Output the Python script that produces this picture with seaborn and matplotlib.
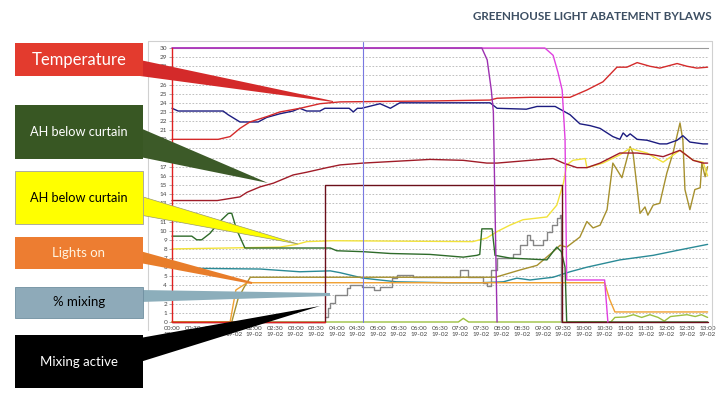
import matplotlib
matplotlib.use("Agg")
import matplotlib.pyplot as plt
import matplotlib.patches as mpatches
from matplotlib.lines import Line2D
import seaborn as sns

# ---------- DATA (hours since 00:00, value) ----------
TEMP_H = [0, 1.12, 1.41, 1.65, 1.89, 2.31, 2.62, 3.11, 3.59, 4.08, 6.26, 7.72, 7.89, 8.69,
          9.66, 10.07, 10.46, 10.8, 11.04, 11.29, 11.6, 11.84, 12.26, 12.5, 12.74, 13.0]
TEMP_V = [20.0, 20.0, 20.3, 21.2, 21.9, 22.5, 23.0, 23.4, 23.9, 24.1, 24.2, 24.3, 24.5, 24.6,
          24.6, 25.4, 26.3, 27.9, 27.9, 28.4, 28.0, 27.8, 28.3, 28.0, 27.8, 27.9]

NAVY_H = [0, 0.15, 1.24, 1.36, 1.65, 2.09, 2.3, 2.62, 2.94, 3.1, 3.27, 3.59, 3.71, 4.3, 4.4,
          4.5, 4.6, 5.05, 5.3, 5.53, 7.72, 7.89, 8.6, 8.86, 9.3, 9.66, 9.9, 10.15, 10.39, 10.7,
          10.87, 10.95, 11.04, 11.12, 11.29, 11.53, 11.84, 12.01, 12.26, 12.4, 12.57, 12.89, 13.0]
NAVY_V = [23.4, 23.1, 23.1, 22.7, 21.9, 21.9, 22.4, 22.8, 23.1, 23.4, 23.1, 23.1, 23.4, 23.4, 23.0,
          23.4, 23.4, 23.9, 23.4, 24.0, 24.0, 23.4, 23.3, 23.6, 23.6, 22.7, 21.7, 21.5, 21.2, 20.3,
          20.0, 20.7, 20.3, 20.6, 20.0, 19.9, 19.5, 19.5, 19.9, 20.4, 19.7, 19.5, 19.5]

DRED_H = [0, 1.1, 1.65, 1.82, 2.14, 2.46, 2.94, 3.27, 3.76, 4.08, 4.64, 5.45, 6.26, 7.07, 7.64,
          7.89, 8.69, 9.25, 9.5, 9.83, 10.07, 10.39, 10.87, 11.29, 11.68, 11.92, 12.33, 12.65,
          12.89, 13.0]
DRED_V = [13.3, 13.3, 13.7, 14.2, 14.8, 15.2, 16.1, 16.4, 16.9, 17.2, 17.4, 17.6, 17.8, 17.7, 17.4,
          17.4, 17.7, 17.9, 17.4, 16.9, 16.9, 17.4, 18.5, 18.5, 18.3, 18.1, 18.8, 17.7, 17.4, 17.4]

GREEN_H = [0, 0.48, 0.6, 0.72, 0.92, 1.16, 1.37, 1.45, 1.57, 1.77, 3.84, 4.0, 4.64, 5.3, 6.26,
           7.07, 7.4, 7.47, 7.52, 7.77, 7.84, 8.2, 9.1, 9.25, 9.34, 9.45, 9.54, 9.58, 13.0]
GREEN_V = [9.4, 9.4, 9.0, 9.0, 9.7, 11.0, 11.9, 11.9, 10.1, 8.1, 8.1, 7.8, 7.7, 7.5, 7.4,
           7.1, 7.3, 7.4, 10.2, 10.2, 7.3, 7.0, 6.8, 7.7, 8.2, 7.7, 6.0, 0.0, 0.0]

YELLOW_H = [0, 2.62, 3.03, 3.27, 3.9, 7.3, 7.64, 7.89, 8.2, 8.52, 9.1, 9.34, 9.5, 9.58, 9.73,
            10.03, 10.07, 10.46, 10.87, 11.04, 11.12, 11.53, 11.92, 12.33, 12.65, 12.89, 13.0]
YELLOW_V = [8.0, 8.2, 8.5, 8.8, 8.9, 8.8, 9.2, 9.9, 10.6, 11.2, 11.5, 12.8, 15.2, 17.2, 17.7,
            17.9, 16.9, 17.4, 18.3, 18.8, 19.0, 18.5, 17.5, 18.8, 17.7, 17.5, 16.0]

OLIVE_H = [0, 1.45, 1.6, 1.75, 1.9, 7.85, 8.45, 8.86, 9.25, 9.42, 9.58, 9.9, 10.07, 10.22, 10.39,
           10.56, 10.7, 10.92, 11.12, 11.19, 11.36, 11.48, 11.55, 11.68, 11.84, 12.01, 12.16,
           12.33, 12.4, 12.45, 12.57, 12.69, 12.82, 12.86, 12.94, 13.0]
OLIVE_V = [0, 0, 2.5, 3.8, 4.9, 4.9, 5.7, 6.2, 7.7, 8.4, 8.2, 9.3, 11.0, 10.3, 10.6,
           12.3, 17.4, 15.8, 19.2, 18.5, 11.9, 12.6, 11.7, 12.8, 13.0, 16.3, 18.5,
           21.8, 19.9, 14.5, 12.3, 14.5, 14.7, 17.4, 15.9, 17.0]

LIGHTS_H = [0, 1.41, 1.55, 1.82, 10.5, 10.62, 10.75, 13.0]
LIGHTS_V = [0, 0, 3.5, 4.3, 4.3, 2.5, 1.1, 1.1]

MAGENTA_H = [0, 9.05, 9.25, 9.37, 9.47, 9.54, 9.58, 10.5, 10.58]
MAGENTA_V = [30, 30, 29.2, 27.3, 25.4, 20.0, 4.6, 4.6, 0]

PURPLE_H = [0, 7.52, 7.65, 7.75, 7.8, 7.85, 7.89]
PURPLE_V = [30, 30, 28.7, 25.4, 23.0, 10.0, 0]

ACTIVE_H = [0, 3.71, 3.71, 9.47, 9.47, 13.0]
ACTIVE_V = [0, 0, 15, 15, 0, 0]

MIX_H = [3.71, 3.78, 3.84, 3.95, 4.25, 4.33, 4.6, 4.9, 5.05, 5.34, 5.45, 5.85, 7.0, 7.18, 7.55,
         7.65, 7.75, 7.89, 8.28, 8.45, 8.61, 8.69, 8.77, 9.0, 9.1, 9.22, 9.34, 9.42, 9.45]
MIX_V = [0.5, 1.5, 2.1, 3.0, 3.7, 4.0, 3.8, 3.5, 3.8, 4.8, 5.1, 4.9, 5.7, 4.9, 4.3,
         3.9, 5.7, 7.0, 7.5, 8.4, 9.5, 9.0, 8.4, 9.0, 9.9, 10.6, 11.4, 11.7, 0]

TEAL_H = [0, 2.14, 3.1, 3.84, 4.08, 4.64, 5.45, 6.67, 7.48, 8.04, 8.37, 8.69, 9.25, 9.66, 10.07,
          10.87, 11.68, 12.33, 12.89, 13.0]
TEAL_V = [5.9, 5.8, 5.5, 5.6, 5.4, 4.8, 4.4, 4.3, 4.3, 4.4, 4.8, 4.6, 4.9, 5.5, 6.0,
          6.8, 7.3, 7.9, 8.4, 8.5]

LGREEN_H = [0, 6.95, 7.07, 7.2, 10.65, 10.75, 11.0, 11.2, 11.4, 11.6, 11.8, 11.95, 12.1, 12.3,
            12.5, 12.7, 12.85, 13.0]
LGREEN_V = [0, 0, 0.4, 0, 0, 0.5, 0.55, 0.8, 0.5, 0.8, 0.5, 0.1, 0.6, 0.7, 0.8, 0.6, 0.8, 0.5]

START_H = [0, 0, 3.71]
START_V = [30, 0, 0]

CURSOR_H = [4.64, 4.64]
CURSOR_V = [0, 30.7]

TICK_H = [i * 0.5 for i in range(27)]
TICK_LABELS = [f"{int(h):02d}:{int(round((h % 1) * 60)):02d}\n19-02" for h in TICK_H]
Y_TICKS = list(range(31))

BOXES = ["Temperature", "AH below curtain", "AH below curtain", "Lights on", "% mixing", "Mixing active"]

# ---------- FIGURE ----------
sns.set_style("white")
plt.rcParams["font.family"] = ["Lato", "DejaVu Sans"]

W, H = 719, 413
fig = plt.figure(figsize=(W / 100, H / 100), dpi=100)


def px(x, y):
    return (x / W, 1 - y / H)


ax = fig.add_axes([172 / W, 1 - 322 / H, (707.6 - 172) / W, 274 / H])

series = [
    (LGREEN_H, LGREEN_V, "#9cc040"),
    (TEAL_H, TEAL_V, "#2a8a96"),
    (MIX_H, MIX_V, "#858585"),
    (OLIVE_H, OLIVE_V, "#a6902e"),
    (LIGHTS_H, LIGHTS_V, "#f0a030"),
    (YELLOW_H, YELLOW_V, "#f2e23a"),
    (DRED_H, DRED_V, "#a01c28"),
    (GREEN_H, GREEN_V, "#2e6b2a"),
    (NAVY_H, NAVY_V, "#1c1c80"),
    (TEMP_H, TEMP_V, "#d42a2a"),
    (ACTIVE_H, ACTIVE_V, "#6b0f1a"),
    (MAGENTA_H, MAGENTA_V, "#e040e0"),
    (PURPLE_H, PURPLE_V, "#9c30b0"),
    (START_H, START_V, "#e02020"),
]
for xs, ys, c in series:
    ds = "steps-post" if xs is MIX_H else "default"
    sns.lineplot(x=xs, y=ys, ax=ax, color=c, lw=1.0, estimator=None, sort=False,
                 drawstyle=ds, clip_on=False, zorder=3)

sns.lineplot(x=CURSOR_H, y=CURSOR_V, ax=ax, color="#7878e0", lw=0.8, estimator=None,
             sort=False, clip_on=False, zorder=3)

ax.set_xlim(0, 13)
ax.set_ylim(0, 30)
ax.set_yticks(Y_TICKS)
ax.set_yticklabels([str(v) for v in Y_TICKS], fontsize=4.6, color="#444444")
ax.set_xticks(TICK_H)
ax.set_xticklabels(TICK_LABELS, fontsize=4.6, color="#444444", linespacing=1.1)
ax.tick_params(axis="y", length=2.5, width=0.5, color="#888888", pad=1, left=True)
ax.tick_params(axis="x", length=0, pad=3)
for yv in Y_TICKS[1:-1]:
    ax.axhline(yv, color="#b4b4b4", lw=0.6, ls=(0, (2, 2)), zorder=0)
for s in ["left", "right", "bottom"]:
    ax.spines[s].set_visible(False)
ax.spines["top"].set_color("#999999")
ax.spines["top"].set_linewidth(0.8)
ax.spines["top"].set_zorder(1)
ax.set_xlabel("")
ax.set_ylabel("")

# outer light frame
for (x0, y0), (x1, y1) in [((148, 41), (712, 41)), ((148, 41), (148, 330)), ((712, 41), (712, 330))]:
    a, b = px(x0, y0), px(x1, y1)
    fig.add_artist(Line2D([a[0], b[0]], [a[1], b[1]], color="#d0d0d0", lw=0.8))

fig.text(712 / W, 1 - 17 / H, "GREENHOUSE LIGHT ABATEMENT BYLAWS", ha="right", va="center",
         fontsize=8.4, fontweight="bold", color="#3d4f63")

# callout pointers
wedges = [
    ([(140, 60), (140, 76), (333, 102), (333, 101)], "#d42a2a", "none"),
    ([(140, 128), (140, 157), (268, 183)], "#3c5a28", "none"),
    ([(140, 196), (140, 215), (298, 244)], "#ffff00", "#9a9a6a"),
    ([(140, 251), (140, 263), (252, 284), (252, 282)], "#e87d2a", "none"),
    ([(140, 290), (140, 302), (330, 296), (330, 293)], "#8caebb", "none"),
    ([(140, 338), (140, 362), (320, 306)], "#000000", "none"),
]
for pts, fc, ec in wedges:
    fig.add_artist(mpatches.Polygon([px(*p) for p in pts], closed=True, fc=fc, ec=ec,
                                    lw=0.5, zorder=5))

# label boxes
box_specs = [
    (43, 76, "#e33b2e", "white", "none", 12),
    (105, 159, "#385723", "white", "none", 9.2),
    (171, 224, "#ffff00", "black", "#a0a0a0", 9.2),
    (237, 269, "#ed7d31", "#fff4e0", "none", 9.5),
    (287, 318, "#8eaab9", "black", "#6f8fa0", 9.5),
    (335, 388, "#000000", "white", "none", 9.5),
]
for label, (y0, y1, fc, tc, ec, fs) in zip(BOXES, box_specs):
    x0, yb = px(15, y1)
    rect = mpatches.Rectangle((x0, yb), 128 / W, (y1 - y0) / H, fc=fc, ec=ec, lw=0.6,
                              transform=fig.transFigure, zorder=6)
    fig.add_artist(rect)
    fig.text(79 / W, 1 - (y0 + y1) / 2 / H, label, ha="center", va="center", fontsize=fs,
             color=tc, zorder=7)

fig.savefig("out.png", dpi=100)
